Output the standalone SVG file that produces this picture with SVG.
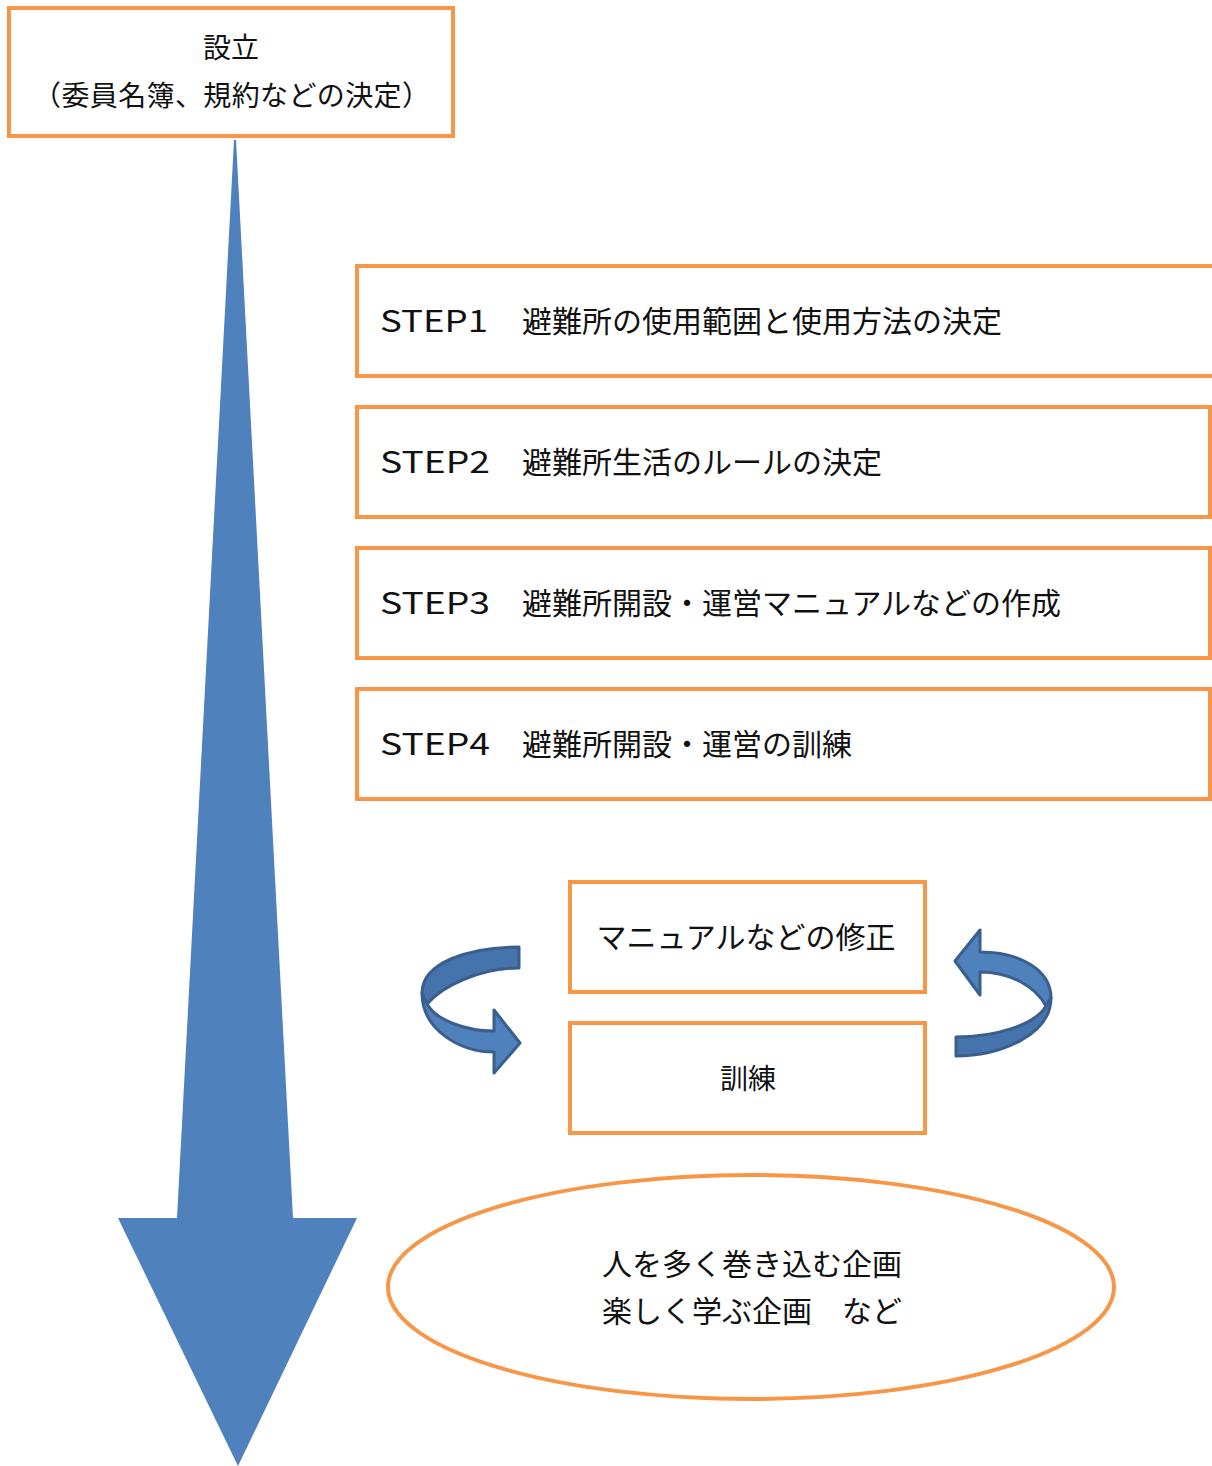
<svg xmlns="http://www.w3.org/2000/svg" width="1212" height="1466" viewBox="0 0 1212 1466">
<style>
.box{fill:#fff;stroke:#F79646;stroke-width:4}
.t{font-family:"Noto Sans CJK JP","Noto Sans",sans-serif;fill:#111;font-size:30px}
.ar{stroke:#3A5F8E;stroke-width:3;stroke-linejoin:round}
</style>
<rect width="1212" height="1466" fill="#fff"/>
<g id="flow-arrow">
<path d="M234,140 L236,140 L293,1218 L357,1218 L238,1466 L118,1218 L177,1218 Z" fill="#4F81BD"/>
</g>
<g id="setup">
<rect class="box" x="9" y="8" width="444" height="128"/>
<text class="t" x="231" y="58" text-anchor="middle" style="font-size:28px">設立</text>
<text class="t" x="33" y="106" textLength="397" lengthAdjust="spacing" style="font-size:28px">（委員名簿、規約などの決定）</text>
</g>
<g id="step1">
<rect class="box" x="357" y="266" width="858" height="110"/>
<text class="t" y="332"><tspan x="380" textLength="108" lengthAdjust="spacingAndGlyphs">STEP1</tspan><tspan x="522">避難所の使用範囲と使用方法の決定</tspan></text>
</g>
<g id="step2">
<rect class="box" x="357" y="407" width="853" height="110"/>
<text class="t" y="473"><tspan x="380" textLength="110" lengthAdjust="spacingAndGlyphs">STEP2</tspan><tspan x="522">避難所生活のルールの決定</tspan></text>
</g>
<g id="step3">
<rect class="box" x="357" y="548" width="853" height="110"/>
<text class="t" y="614"><tspan x="380" textLength="110" lengthAdjust="spacingAndGlyphs">STEP3</tspan><tspan x="522">避難所開設・運営マニュアルなどの作成</tspan></text>
</g>
<g id="step4">
<rect class="box" x="357" y="689" width="853" height="110"/>
<text class="t" y="755"><tspan x="380" textLength="110" lengthAdjust="spacingAndGlyphs">STEP4</tspan><tspan x="522">避難所開設・運営の訓練</tspan></text>
</g>
<g id="revise">
<rect class="box" x="570" y="882" width="355" height="110"/>
<text class="t" x="746" y="948" text-anchor="middle">マニュアルなどの修正</text>
</g>
<g id="training">
<rect class="box" x="570" y="1023" width="355" height="110"/>
<text class="t" x="748" y="1089" text-anchor="middle" style="font-size:28px">訓練</text>
</g>
<g id="events">
<ellipse cx="751" cy="1287" rx="363" ry="112" fill="#fff" stroke="#F79646" stroke-width="4"/>
<text class="t" x="602" y="1275">人を多く巻き込む企画</text>
<text class="t" x="602" y="1322">楽しく学ぶ企画　など</text>
</g>
<g id="connectors">
<path class="ar" fill="#4573AC" d="M519,947 C468,947 422,963 422,993 L427,1004 C442,986 480,968 519,968 Z"/>
<path class="ar" fill="#4F81BD" d="M422,993 C422,1030 460,1052 494,1052 L494,1073 L520,1043 L494,1010 L494,1031 C465,1031 436,1020 427,1004 Z"/>
<path class="ar" fill="#4F81BD" d="M980,952 C1020,952 1051,970 1051,998 L1046,1006 C1035,986 1010,972 980,972 L980,995 L955,961 L980,930 Z"/>
<path class="ar" fill="#4573AC" d="M1051,998 C1051,1035 1000,1056 956,1056 L956,1037 C995,1037 1035,1025 1046,1006 Z"/>
</g>
</svg>
